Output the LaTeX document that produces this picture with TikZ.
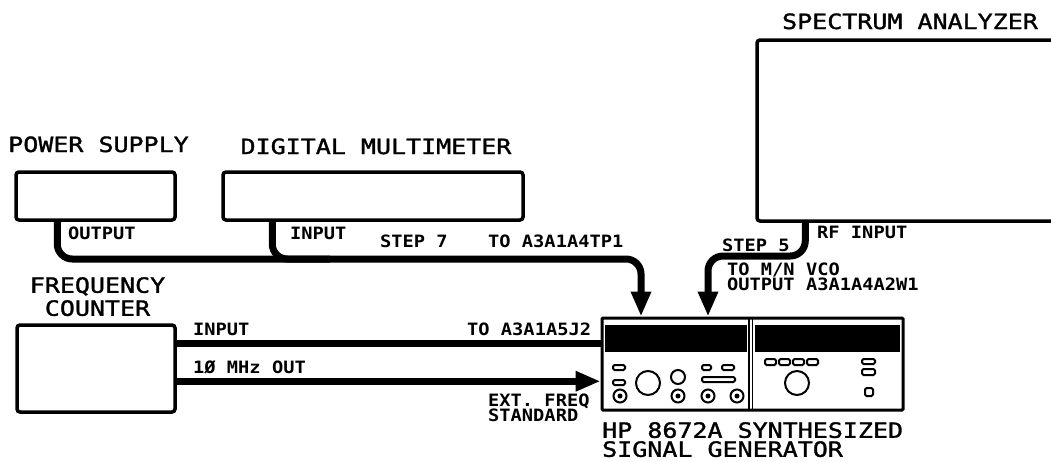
\documentclass[tikz,border=0pt]{standalone}
\usepackage{fontspec}
\usepackage{xcolor}
\usetikzlibrary{arrows.meta}
\newfontfamily\plotfont{DejaVu Sans Mono}[FakeStretch=1.19, FakeBold=1.5]
\newfontfamily\tagfont{DejaVu Sans Mono}[FakeStretch=1.1]

\begin{document}
\begin{tikzpicture}[x=1pt,y=-1pt,
  unit/.style={draw, rectangle, line width=3.5pt, rounded corners=3pt, inner sep=0pt},
  title/.style={font=\plotfont\fontsize{21}{19}\selectfont, inner sep=0pt},
  tag/.style={font=\tagfont\bfseries\fontsize{17}{15}\selectfont, inner sep=0pt, anchor=base west},
  cable/.style={line width=7pt, rounded corners=15pt},
  key/.style={draw, line width=2pt, rounded corners=1.5pt},
  >={Triangle[length=25pt,width=19pt]}]
\useasboundingbox (0,0) rectangle (1051,461);

% instruments
\node[unit, minimum width=159pt, minimum height=48pt] (psu) at (95.5,196) {};%
\node[unit, minimum width=300pt, minimum height=48pt] (dmm) at (373,196) {};%
\node[unit, minimum width=320pt, minimum height=181pt] (sa) at (917,130.5) {};%
\node[unit, minimum width=158pt, minimum height=87pt] (fc) at (96,368.5) {};%
\node[draw, rectangle, line width=3pt, rounded corners=1pt, inner sep=0pt,
  minimum width=301pt, minimum height=92pt] (gen) at (752.5,364) {};

\node[title, anchor=base] (psu-t) at (98.5,152) {POWER SUPPLY};
\node[title, anchor=base] (dmm-t) at (376,154) {DIGITAL MULTIMETER};
\node[title, anchor=base] (sa-t) at (910,29) {SPECTRUM ANALYZER};
\node[title, anchor=north, align=center, font=\plotfont\fontsize{21}{23}\selectfont]
  (fc-t) at (97.5,277) {FREQUENCY\\COUNTER};
\node[title, anchor=north west, align=left] (gen-t) at (602,422)
  {HP 8672A SYNTHESIZED\\SIGNAL GENERATOR};

% front panel of the generator
\fill (605,325) rectangle (747,352);
\fill (755,325) rectangle (900,352);
\draw[line width=1.2pt] (749,318) -- (749,410) (752.5,318) -- (752.5,410);
\draw[key] (613,365) rectangle (625,370);
\draw[key] (613,380) rectangle (625,385);
\draw[key] (702,365) rectangle (711,370);
\draw[key] (722,365) rectangle (734,370);
\draw[key] (702,377) rectangle (735,382);
\draw[line width=2pt] (648,383) circle (12pt) (678,377) circle (7pt) (797,383) circle (12pt);
\foreach \x in {620,678,708,737} {
  \draw[line width=2pt] (\x,396) circle (6.5pt);
  \fill (\x,396) circle (2.5pt);
}
\foreach \x in {765,779,793,807}
  \draw[key] (\x,359) rectangle ++(11,6);
\draw[key] (862,359) rectangle (875,364);
\draw[key] (862,369) rectangle (875,375);
\draw[key] (865,388) rectangle (873,396);

% cables
\coordinate (tee) at (330,259);
\coordinate (tp1) at (641,259);
\coordinate (vco) at (708,256);
\coordinate (a5j2) at ([yshift=-20pt]fc.north east);
\coordinate (ref) at ([yshift=-58pt]fc.north east);

\draw[cable] ([xshift=51pt]dmm.south west) |- (tee);
\draw[cable,->] ([xshift=43pt]psu.south west) |- (tp1) -- (tp1 |- gen.north);
\draw[cable,->] ([xshift=50pt]sa.south west) |- (vco) -- (vco |- gen.north);
\draw[cable] (a5j2) -- (a5j2 -| gen.west);
\draw[cable,->] (ref) -- (ref -| gen.west);

\node[tag] (ps-out) at (68,239) {OUTPUT};
\node[tag] (dmm-in) at (290,239) {INPUT};
\node[tag] (step7) at (380,247) {STEP 7};
\node[tag] (to-tp1) at (488,247) {TO A3A1A4TP1};
\node[tag] (step5) at (722,251) {STEP 5};
\node[tag] (rf-in) at (817,238) {RF INPUT};
\node[tag, anchor=north west, align=left] (to-vco) at (727,263) {TO M/N VCO\\OUTPUT A3A1A4A2W1};
\node[tag] (fc-in) at (193,335) {INPUT};
\node[tag] (fc-out) at (193,373) {1Ø MHz OUT};
\node[tag] (to-j2) at (467,335) {TO A3A1A5J2};
\node[tag, anchor=north west, align=left] (ext) at (488,394) {EXT. FREQ\\STANDARD};
\end{tikzpicture}
\end{document}
